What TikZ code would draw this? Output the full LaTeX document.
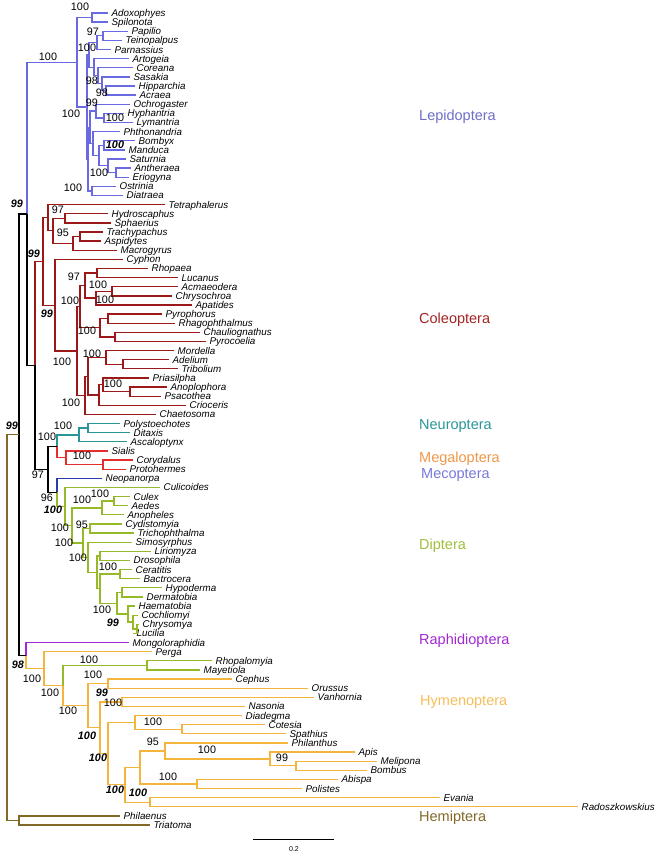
\documentclass[tikz,border=0pt]{standalone}
\usepackage{fontspec}
\setmainfont{Liberation Sans}
\definecolor{lep}{RGB}{105,105,225}
\definecolor{leptxt}{RGB}{110,110,200}
\definecolor{col}{RGB}{155,25,25}
\definecolor{coltxt}{RGB}{165,35,35}
\definecolor{neu}{RGB}{40,150,150}
\definecolor{meg}{RGB}{228,45,45}
\definecolor{megtxt}{RGB}{240,150,70}
\definecolor{mec}{RGB}{40,60,170}
\definecolor{mectxt}{RGB}{120,120,220}
\definecolor{dip}{RGB}{150,185,40}
\definecolor{diptxt}{RGB}{160,190,60}
\definecolor{rap}{RGB}{160,40,210}
\definecolor{hym}{RGB}{245,180,60}
\definecolor{hymtxt}{RGB}{245,190,90}
\definecolor{hem}{RGB}{130,105,40}
\tikzset{
  br/.style={line width=1.3pt},
  taxon/.style={anchor=base west, inner sep=0pt, xshift=3.5pt, yshift=-3.5pt,
    font=\fontsize{9.8}{9.8}\selectfont\itshape},
  supp/.style={inner sep=0pt, font=\fontsize{10.8}{10.8}\selectfont},
  suppb/.style={inner sep=0pt, font=\fontsize{10.8}{10.8}\selectfont\bfseries\itshape},
  clade/.style={anchor=west, inner sep=0pt, font=\fontsize{14.5}{14.5}\selectfont}
}
\newcommand\LeafT[4]{%
  \expandafter\def\csname yy@#1\endcsname{#3}%
  \coordinate (#1) at (#2,#3);
  \node[taxon] (#1t) at (#1) {#4};}
\newcommand\INode[6]{%
  \pgfmathsetmacro\tmpy{(\csname yy@#3\endcsname+\csname yy@#5\endcsname)/2}%
  \expandafter\let\csname yy@#1\endcsname\tmpy
  \coordinate (#1) at (#2,\tmpy);
  \draw[br,#4] (#1) |- (#3);
  \draw[br,#6] (#1) |- (#5);}
\begin{document}
\begin{tikzpicture}[x=1pt,y=-1pt]
\useasboundingbox (0,0) rectangle (662,855);
\begin{scope}[y=-9.124pt, yshift=-3.876pt]
% leaves
\LeafT{a1}{108}{1}{Adoxophyes}
\LeafT{a2}{108}{2}{Spilonota}
\LeafT{a3}{128}{3}{Papilio}
\LeafT{a4}{122}{4}{Teinopalpus}
\LeafT{a5}{111}{5}{Parnassius}
\LeafT{a6}{129}{6}{Artogeia}
\LeafT{a7}{133}{7}{Coreana}
\LeafT{a8}{130}{8}{Sasakia}
\LeafT{a9}{135}{9}{Hipparchia}
\LeafT{a10}{136}{10}{Acraea}
\LeafT{a11}{130}{11}{Ochrogaster}
\LeafT{a12}{124}{12}{Hyphantria}
\LeafT{a13}{133}{13}{Lymantria}
\LeafT{a14}{120}{14}{Phthonandria}
\LeafT{a15}{135}{15}{Bombyx}
\LeafT{a16}{125}{16}{Manduca}
\LeafT{a17}{126}{17}{Saturnia}
\LeafT{a18}{131}{18}{Antheraea}
\LeafT{a19}{129}{19}{Eriogyna}
\LeafT{a20}{116}{20}{Ostrinia}
\LeafT{a21}{123}{21}{Diatraea}
\LeafT{b22}{165}{22}{Tetraphalerus}
\LeafT{b23}{108}{23}{Hydroscaphus}
\LeafT{b24}{111}{24}{Sphaerius}
\LeafT{b25}{103}{25}{Trachypachus}
\LeafT{b26}{101}{26}{Aspidytes}
\LeafT{b27}{117}{27}{Macrogyrus}
\LeafT{b28}{123}{28}{Cyphon}
\LeafT{b29}{148}{29}{Rhopaea}
\LeafT{b30}{178}{30}{Lucanus}
\LeafT{b31}{178}{31}{Acmaeodera}
\LeafT{b32}{172}{32}{Chrysochroa}
\LeafT{b33}{192}{33}{Apatides}
\LeafT{b34}{162}{34}{Pyrophorus}
\LeafT{b35}{175}{35}{Rhagophthalmus}
\LeafT{b36}{200}{36}{Chauliognathus}
\LeafT{b37}{206}{37}{Pyrocoelia}
\LeafT{b38}{174}{38}{Mordella}
\LeafT{b39}{169}{39}{Adelium}
\LeafT{b40}{178}{40}{Tribolium}
\LeafT{b41}{149}{41}{Priasilpha}
\LeafT{b42}{167}{42}{Anoplophora}
\LeafT{b43}{161}{43}{Psacothea}
\LeafT{b44}{186}{44}{Crioceris}
\LeafT{b45}{156}{45}{Chaetosoma}
\LeafT{c46}{120}{46}{Polystoechotes}
\LeafT{c47}{130}{47}{Ditaxis}
\LeafT{c48}{127}{48}{Ascaloptynx}
\LeafT{c49}{108}{49}{Sialis}
\LeafT{c50}{133}{50}{Corydalus}
\LeafT{c51}{126}{51}{Protohermes}
\LeafT{d52}{102}{52}{Neopanorpa}
\LeafT{d53}{160}{53}{Culicoides}
\LeafT{d54}{130}{54}{Culex}
\LeafT{d55}{128}{55}{Aedes}
\LeafT{d56}{124}{56}{Anopheles}
\LeafT{d57}{122}{57}{Cydistomyia}
\LeafT{d58}{134}{58}{Trichophthalma}
\LeafT{d59}{132}{59}{Simosyrphus}
\LeafT{d60}{151}{60}{Liriomyza}
\LeafT{d61}{130}{61}{Drosophila}
\LeafT{d62}{132}{62}{Ceratitis}
\LeafT{d63}{140}{63}{Bactrocera}
\LeafT{d64}{162}{64}{Hypoderma}
\LeafT{d65}{143}{65}{Dermatobia}
\LeafT{d66}{135}{66}{Haematobia}
\LeafT{d67}{138}{67}{Cochliomyi}
\LeafT{d68}{139}{68}{Chrysomya}
\LeafT{d69}{133}{69}{Lucilia}
\LeafT{e70}{129}{70}{Mongoloraphidia}
\LeafT{e71}{152}{71}{Perga}
\LeafT{e72}{212}{72}{Rhopalomyia}
\LeafT{e73}{200}{73}{Mayetiola}
\LeafT{e74}{232}{74}{Cephus}
\LeafT{e75}{308}{75}{Orussus}
\LeafT{e76}{314}{76}{Vanhornia}
\LeafT{e77}{245}{77}{Nasonia}
\LeafT{e78}{242}{78}{Diadegma}
\LeafT{e79}{265}{79}{Cotesia}
\LeafT{e80}{286}{80}{Spathius}
\LeafT{e81}{288}{81}{Philanthus}
\LeafT{e82}{355}{82}{Apis}
\LeafT{e83}{377}{83}{Melipona}
\LeafT{e84}{367}{84}{Bombus}
\LeafT{e85}{338}{85}{Abispa}
\LeafT{e86}{302}{86}{Polistes}
\LeafT{e87}{440}{87}{Evania}
\LeafT{e88}{578}{88}{Radoszkowskius}
\LeafT{f89}{120}{89}{Philaenus}
\LeafT{f90}{150}{90}{Triatoma}
% Lepidoptera
\INode{Tort}{92}{a1}{lep}{a2}{lep}
\INode{PapT}{103}{a3}{lep}{a4}{lep}
\INode{Pap}{97}{PapT}{lep}{a5}{lep}
\INode{HA}{106}{a9}{lep}{a10}{lep}
\INode{SHA}{102}{a8}{lep}{HA}{lep}
\INode{CSHA}{98}{a7}{lep}{SHA}{lep}
\INode{Nym}{94}{a6}{lep}{CSHA}{lep}
\INode{Papil}{89}{Pap}{lep}{Nym}{lep}
\INode{HL}{104}{a12}{lep}{a13}{lep}
\INode{Noct}{96}{a11}{lep}{HL}{lep}
\INode{BM}{104}{a15}{lep}{a16}{lep}
\INode{AE}{116}{a18}{lep}{a19}{lep}
\INode{Sat}{108}{a17}{lep}{AE}{lep}
\INode{Bomb}{99}{BM}{lep}{Sat}{lep}
\INode{Geo}{93}{a14}{lep}{Bomb}{lep}
\INode{Ymac}{90}{Noct}{lep}{Geo}{lep}
\INode{OD}{92}{a20}{lep}{a21}{lep}
\INode{Xlep}{88}{Ymac}{lep}{OD}{lep}
\INode{R1}{87}{Papil}{lep}{Xlep}{lep}
\INode{L0}{77}{Tort}{lep}{R1}{lep}
% Coleoptera
\INode{HS}{65}{b23}{col}{b24}{col}
\INode{TA}{80}{b25}{col}{b26}{col}
\INode{TAM}{73}{TA}{col}{b27}{col}
\INode{AM}{53}{HS}{col}{TAM}{col}
\INode{Arch}{48}{b22}{col}{AM}{col}
\INode{SL}{97}{b29}{col}{b30}{col}
\INode{Bup}{112}{b31}{col}{b32}{col}
\INode{BA}{96}{Bup}{col}{b33}{col}
\INode{SBA}{85}{SL}{col}{BA}{col}
\INode{PR}{108}{b34}{col}{b35}{col}
\INode{CPy}{115}{b36}{col}{b37}{col}
\INode{Ela}{100}{PR}{col}{CPy}{col}
\INode{E1}{80}{SBA}{col}{Ela}{col}
\INode{AT}{123}{b39}{col}{b40}{col}
\INode{Ten}{106}{b38}{col}{AT}{col}
\INode{AP}{130}{b42}{col}{b43}{col}
\INode{PAP}{103}{b41}{col}{AP}{col}
\INode{PAPC}{99}{PAP}{col}{b44}{col}
\INode{Cuc2}{88}{Ten}{col}{PAPC}{col}
\INode{Cucuj}{85}{Cuc2}{col}{b45}{col}
\INode{P2}{77}{E1}{col}{Cucuj}{col}
\INode{Poly}{55}{b28}{col}{P2}{col}
\INode{C0}{43}{Arch}{col}{Poly}{col}
% Neuropterida
\INode{PD}{88}{c46}{neu}{c47}{neu}
\INode{Neur}{79}{PD}{neu}{c48}{neu}
\INode{CPr}{103}{c50}{meg}{c51}{meg}
\INode{Meg}{66}{c49}{meg}{CPr}{meg}
\INode{NP}{57}{Neur}{neu}{Meg}{meg}
% Diptera
\INode{CA}{114}{d54}{dip}{d55}{dip}
\INode{Culi}{102}{CA}{dip}{d56}{dip}
\INode{CT}{90}{d57}{dip}{d58}{dip}
\INode{LD}{100}{d60}{dip}{d61}{dip}
\INode{CB}{120}{d62}{dip}{d63}{dip}
\INode{HD}{122}{d64}{dip}{d65}{dip}
\INode{CL}{137}{d68}{dip}{d69}{dip}
\INode{CCL}{133}{d67}{dip}{CL}{dip}
\INode{HCCL}{128}{d66}{dip}{CCL}{dip}
\INode{Cal}{117}{HD}{dip}{HCCL}{dip}
\INode{TC}{100}{CB}{dip}{Cal}{dip}
\INode{Sch}{97}{LD}{dip}{TC}{dip}
\INode{Cyc}{88}{d59}{dip}{Sch}{dip}
\INode{Bra}{83}{CT}{dip}{Cyc}{dip}
\INode{D1}{72}{Culi}{dip}{Bra}{dip}
\INode{D0}{65}{d53}{dip}{D1}{dip}
\INode{N5}{57}{d52}{mec}{D0}{dip}
% Hymenoptera
\INode{Cec}{147}{e72}{dip}{e73}{dip}
\INode{CO}{108}{e74}{hym}{e75}{hym}
\INode{VN}{122}{e76}{hym}{e77}{hym}
\INode{CS}{182}{e79}{hym}{e80}{hym}
\INode{Ich}{135}{e78}{hym}{CS}{hym}
\INode{MB}{296}{e83}{hym}{e84}{hym}
\INode{AMB}{270}{e82}{hym}{MB}{hym}
\INode{Apo}{165}{e81}{hym}{AMB}{hym}
\INode{Ves}{197}{e85}{hym}{e86}{hym}
\INode{Acu}{140}{Apo}{hym}{Ves}{hym}
\INode{ER}{150}{e87}{hym}{e88}{hym}
\INode{Xh}{125}{Acu}{hym}{ER}{hym}
\INode{Nh}{108}{Ich}{hym}{Xh}{hym}
\INode{Api}{100}{VN}{hym}{Nh}{hym}
\INode{H2}{88}{CO}{hym}{Api}{hym}
\INode{H1}{63}{Cec}{dip}{H2}{hym}
\INode{H0}{44}{e71}{hym}{H1}{hym}
\INode{NRH}{26}{e70}{rap}{H0}{hym}
% backbone
\INode{N4}{48}{NP}{black}{N5}{black}
\INode{N3}{35}{C0}{col}{N4}{black}
\INode{N2}{27}{L0}{lep}{N3}{black}
\INode{N1}{19}{N2}{black}{NRH}{black}
\INode{Hemi}{19}{f89}{hem}{f90}{hem}
\INode{Root}{7}{N1}{hem}{Hemi}{hem}
\end{scope}
% support values
\node[supp] (s1) at (48,57) {100};
\node[supp] (s2) at (80,7) {100};
\node[supp] (s3) at (93,32) {97};
\node[supp] (s4) at (87,48) {100};
\node[supp] (s5) at (92,81) {98};
\node[supp] (s6) at (102,93) {98};
\node[supp] (s7) at (92,103) {99};
\node[supp] (s8) at (71,114) {100};
\node[supp] (s9) at (115,118) {100};
\node[suppb] (s10) at (115,145) {100};
\node[supp] (s11) at (99,173) {100};
\node[supp] (s12) at (73,188) {100};
\node[suppb] (s13) at (17,204) {99};
\node[supp] (s14) at (58,210) {97};
\node[supp] (s15) at (63,233) {95};
\node[suppb] (s16) at (34,254) {99};
\node[supp] (s17) at (74,277) {97};
\node[supp] (s18) at (98,285) {100};
\node[supp] (s19) at (70,301) {100};
\node[supp] (s20) at (105,300) {100};
\node[suppb] (s21) at (47,314) {99};
\node[supp] (s22) at (87,331) {100};
\node[supp] (s23) at (92,354) {100};
\node[supp] (s24) at (62,362) {100};
\node[supp] (s25) at (113,384) {100};
\node[supp] (s26) at (71,403) {100};
\node[suppb] (s27) at (12,426) {99};
\node[supp] (s28) at (63,426) {100};
\node[supp] (s29) at (47,437) {100};
\node[supp] (s30) at (82,456) {100};
\node[supp] (s31) at (38,475) {97};
\node[supp] (s32) at (47,498) {96};
\node[supp] (s33) at (100,494) {100};
\node[supp] (s34) at (82,500) {100};
\node[suppb] (s35) at (53,510) {100};
\node[supp] (s36) at (82,525) {95};
\node[supp] (s37) at (60,528) {100};
\node[supp] (s38) at (64,543) {100};
\node[supp] (s39) at (78,558) {100};
\node[supp] (s40) at (108,567) {100};
\node[supp] (s41) at (102,610) {100};
\node[suppb] (s42) at (113,623) {99};
\node[suppb] (s43) at (18,665) {98};
\node[supp] (s44) at (32,679) {100};
\node[supp] (s45) at (89,660) {100};
\node[supp] (s46) at (50,693) {100};
\node[supp] (s47) at (93,675) {100};
\node[suppb] (s48) at (102,693) {99};
\node[supp] (s49) at (68,711) {100};
\node[supp] (s50) at (113,703) {100};
\node[supp] (s51) at (153,722) {100};
\node[suppb] (s52) at (87,736) {100};
\node[supp] (s53) at (153,742) {95};
\node[supp] (s54) at (207,750) {100};
\node[supp] (s55) at (282,758) {99};
\node[suppb] (s56) at (98,758) {100};
\node[supp] (s57) at (168,777) {100};
\node[suppb] (s58) at (115,790) {100};
\node[suppb] (s59) at (138,793) {100};
% clade names
\node[clade, text=leptxt] (k1) at (419,117) {Lepidoptera};
\node[clade, text=coltxt] (k2) at (419,320) {Coleoptera};
\node[clade, text=neu] (k3) at (419,426) {Neuroptera};
\node[clade, text=megtxt] (k4) at (419,459) {Megaloptera};
\node[clade, text=mectxt] (k5) at (421,475) {Mecoptera};
\node[clade, text=diptxt] (k6) at (419,546) {Diptera};
\node[clade, text=rap] (k7) at (419,641) {Raphidioptera};
\node[clade, text=hymtxt] (k8) at (420,702) {Hymenoptera};
\node[clade, text=hem] (k9) at (419,818) {Hemiptera};
% scale bar
\coordinate (sb1) at (253,839);
\coordinate (sb2) at (334,839);
\draw[line width=0.8pt] (sb1) -- (sb2);
\node[inner sep=0pt, font=\fontsize{7}{7}\selectfont] (sbl) at (294,849) {0.2};
\end{tikzpicture}
\end{document}
